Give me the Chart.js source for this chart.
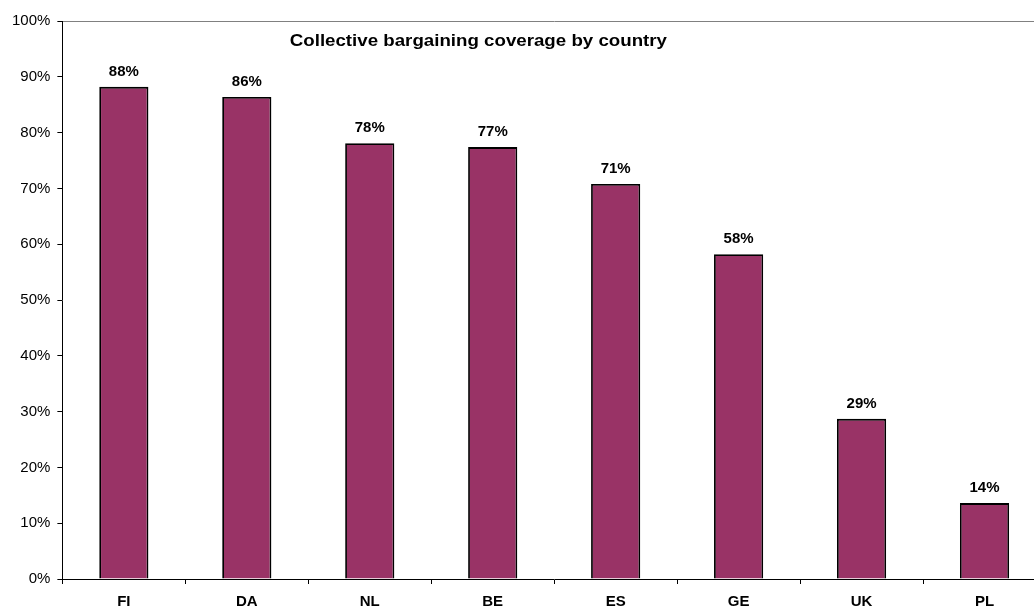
<!DOCTYPE html>
<html>
<head>
	<title>Collective bargaining coverage by country</title>
	<script src="https://cdn.jsdelivr.net/npm/chart.js@4.4.0/dist/chart.umd.min.js"></script>
	<style>
		body { margin: 0; overflow: hidden; background: #fff; }
		#wrap { width: 1050px; height: 620px; }
	</style>
</head>
<body>
	<div id="wrap"><canvas id="coverage"></canvas></div>
	<script>
	countries = ["FI", "DA", "NL", "BE", "ES", "GE", "UK", "PL"]
	coverage = [88.2, 86.4, 78.1, 77.4, 70.8, 58.2, 28.7, 13.6]
	yTicks = [0, 10, 20, 30, 40, 50, 60, 70, 80, 90, 100]
	chartTitle = "Collective bargaining coverage by country"

	// value labels on top of each bar
	barLabels = {
		id: "barLabels",
		afterDatasetsDraw(chart) {
			ctx = chart.ctx
			ctx.save()
			ctx.font = "bold 15px Arial, 'Liberation Sans'"
			ctx.fillStyle = "#000"
			ctx.textAlign = "center"
			ctx.textBaseline = "alphabetic"
			chart.getDatasetMeta(0).data.forEach((bar, i) => {
				ctx.fillText(Math.round(coverage[i]) + "%", bar.x, bar.y - 11)
			})
			ctx.restore()
		}
	}

	// title sits inside the plot area, slightly widened
	innerTitle = {
		id: "innerTitle",
		afterDraw(chart) {
			a = chart.chartArea
			ctx = chart.ctx
			ctx.save()
			ctx.font = "bold 17px Arial, 'Liberation Sans'"
			ctx.fillStyle = "#000"
			ctx.textAlign = "center"
			ctx.textBaseline = "middle"
			ctx.translate(a.left + 416, a.top + 20)
			ctx.scale(1.1, 1)
			ctx.fillText(chartTitle, 0, 0)
			ctx.restore()
		}
	}

	chart = new Chart(document.getElementById("coverage"), {
		type: "bar",
		data: {
			labels: countries,
			datasets: [{
				data: coverage,
				backgroundColor: "#993366",
				borderColor: "#000",
				borderWidth: 1.8,
				barPercentage: 0.4,
				categoryPercentage: 1.0
			}]
		},
		options: {
			responsive: true,
			maintainAspectRatio: false,
			animation: false,
			layout: { padding: { top: 21, right: 4, left: 5, bottom: 0 } },
			plugins: {
				legend: { display: false },
				tooltip: { enabled: false }
			},
			scales: {
				x: {
					offset: true,
					grid: {
						offset: true,
						drawOnChartArea: false,
						tickLength: 5,
						tickColor: "#000"
					},
					border: { color: "#000", width: 1 },
					ticks: {
						color: "#000",
						padding: 9,
						font: { family: "Arial, 'Liberation Sans'", size: 15, weight: "bold" }
					}
				},
				y: {
					min: 0,
					max: 100,
					afterBuildTicks(axis) {
						axis.ticks = yTicks.map(v => ({ value: v }))
					},
					grid: {
						color: c => c.tick && c.tick.value === 100 ? "#808080" : "rgba(0,0,0,0)",
						tickColor: "#000",
						tickLength: 5
					},
					border: { color: "#000", width: 1 },
					ticks: {
						color: "#000",
						padding: 7,
						callback: v => v + "%",
						font: { family: "Arial, 'Liberation Sans'", size: 15 }
					}
				}
			}
		},
		plugins: [barLabels, innerTitle]
	})
	</script>
</body>
</html>
